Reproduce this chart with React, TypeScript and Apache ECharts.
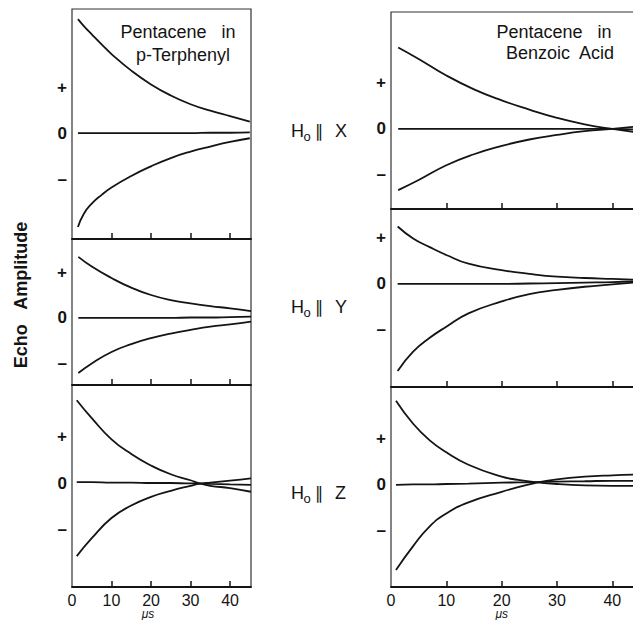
import React, { useEffect, useRef } from "react";
import * as echarts from "echarts";

// ---- axis labels ----
const xTickLabels = [0, 10, 20, 30, 40];
const xTickMarks = [10, 20, 30, 40];
const yLabelValues = [-1, 0, 1];
const muLabelAt = 20;

// ---- Pentacene in p-Terphenyl ----
// H0 || X
const ptXTime = [1.5, 3, 5, 7.5, 10, 15, 20, 25, 30, 35, 40, 45];
const ptXUpper = [2.48, 2.33, 2.15, 1.93, 1.72, 1.36, 1.06, 0.82, 0.63, 0.49, 0.37, 0.25];
const ptXZero = [0, 0, 0, 0, 0, 0, 0, 0, 0, 0.01, 0.01, 0.02];
const ptXLower = [-2.04, -1.75, -1.53, -1.34, -1.18, -0.93, -0.72, -0.54, -0.4, -0.29, -0.19, -0.11];
// H0 || Y
const ptYTime = [1.6, 5, 10, 15, 20, 25, 30, 35, 40, 45.3];
const ptYUpper = [1.33, 1.12, 0.87, 0.66, 0.5, 0.39, 0.32, 0.26, 0.21, 0.15];
const ptYZero = [0, 0, 0, 0, 0, 0, 0.01, 0.01, 0.02, 0.03];
const ptYLower = [-1.2, -0.99, -0.74, -0.57, -0.44, -0.34, -0.26, -0.19, -0.14, -0.08];
// H0 || Z
const ptZTime = [1.2, 5, 10, 15, 20, 25, 30, 32, 35, 40, 45.3];
const ptZUpper = [1.8, 1.41, 0.95, 0.63, 0.38, 0.19, 0.06, 0.0, -0.06, -0.11, -0.19];
const ptZZero = [0.02, 0.02, 0.01, 0.01, 0.0, 0.0, -0.01, -0.01, -0.02, -0.03, -0.04];
const ptZLower = [-1.59, -1.2, -0.76, -0.49, -0.3, -0.17, -0.06, -0.02, 0.01, 0.05, 0.1];

// ---- Pentacene in Benzoic Acid ----
// H0 || X
const baXTime = [1.3, 5, 10, 15, 20, 25, 30, 35, 40, 45];
const baXUpper = [1.77, 1.52, 1.16, 0.86, 0.62, 0.42, 0.24, 0.1, 0.0, -0.08];
const baXZero = [0, 0, 0, 0, 0, 0, 0, 0, 0, -0.02];
const baXLower = [-1.33, -1.11, -0.79, -0.55, -0.37, -0.23, -0.13, -0.05, 0.0, 0.06];
// H0 || Y
const baYTime = [1.2, 4, 7, 10, 14, 20, 25, 30, 35, 40, 45];
const baYUpper = [1.25, 0.99, 0.8, 0.63, 0.44, 0.3, 0.22, 0.16, 0.13, 0.11, 0.09];
const baYZero = [0, 0, 0, 0, 0, 0, 0.01, 0.02, 0.03, 0.04, 0.06];
const baYLower = [-1.89, -1.47, -1.17, -0.93, -0.64, -0.38, -0.22, -0.13, -0.06, -0.01, 0.04];
// H0 || Z
const baZTime = [0.9, 4, 7, 10, 14, 20, 23, 26, 30, 35, 40, 45];
const baZUpper = [1.83, 1.33, 0.97, 0.71, 0.44, 0.18, 0.11, 0.06, 0.02, -0.01, -0.02, -0.02];
const baZZero = [0, 0.01, 0.01, 0.02, 0.03, 0.05, 0.055, 0.06, 0.07, 0.08, 0.09, 0.09];
const baZLower = [-1.85, -1.33, -0.9, -0.62, -0.38, -0.15, -0.05, 0.04, 0.12, 0.18, 0.21, 0.23];

const panelData = [
  { t: ptXTime, curves: [ptXUpper, ptXZero, ptXLower] },
  { t: ptYTime, curves: [ptYUpper, ptYZero, ptYLower] },
  { t: ptZTime, curves: [ptZUpper, ptZZero, ptZLower] },
  { t: baXTime, curves: [baXUpper, baXZero, baXLower] },
  { t: baYTime, curves: [baYUpper, baYZero, baYLower] },
  { t: baZTime, curves: [baZUpper, baZZero, baZLower] },
];

const layout = [
  { left: 72, top: 9, width: 179, height: 230, yMin: -2.3, yMax: 2.7, xMax: 45.3, bottom: false },
  { left: 72, top: 239, width: 179, height: 146, yMin: -1.46, yMax: 1.72, xMax: 45.3, bottom: false },
  { left: 72, top: 385, width: 179, height: 202, yMin: -2.26, yMax: 2.13, xMax: 45.3, bottom: true },
  { left: 391, top: 12, width: 249, height: 197, yMin: -1.74, yMax: 2.54, xMax: 45, bottom: false },
  { left: 391, top: 209, width: 249, height: 178, yMin: -2.24, yMax: 1.63, xMax: 45, bottom: false },
  { left: 391, top: 387, width: 249, height: 200, yMin: -2.22, yMax: 2.13, xMax: 45, bottom: true },
];

const FONT = "'Liberation Sans', Arial, Helvetica, sans-serif";
const INK = "#141414";

function hLabel(id: string, x: number, y: number, axisLetter: string) {
  return {
    type: "group",
    id,
    x,
    y,
    children: [
      { type: "text", x: 0, y: 0, style: { text: "H", font: `18px ${FONT}`, fill: INK, textVerticalAlign: "middle" } },
      { type: "text", x: 12.5, y: 5, style: { text: "o", font: `13px ${FONT}`, fill: INK, textVerticalAlign: "middle" } },
      { type: "text", x: 24, y: 0, style: { text: "\u2225", font: `17px 'DejaVu Sans', sans-serif`, fill: INK, textVerticalAlign: "middle" } },
      { type: "text", x: 44, y: 0, style: { text: axisLetter, font: `18px ${FONT}`, fill: INK, textVerticalAlign: "middle" } },
    ],
  };
}

export default function App() {
  const ref = useRef<HTMLDivElement>(null);
  useEffect(() => {
    if (!ref.current) return;
    const chart = echarts.init(ref.current, null, { renderer: "svg" });

    const grids = layout.map((l) => ({
      left: l.left,
      top: l.top,
      width: l.width,
      height: l.height,
      show: true,
      borderColor: "#333",
      borderWidth: 1.2,
      backgroundColor: "transparent",
      containLabel: false,
      outerBoundsMode: "none",
    }));

    const xAxes = layout.map((l, i) => ({
      type: "value",
      gridIndex: i,
      min: 0,
      max: l.xMax,
      splitLine: { show: false },
      axisLine: { show: true, onZero: false, lineStyle: { color: INK, width: 1.8 } },
      axisTick: {
        show: true,
        inside: true,
        length: 6,
        customValues: xTickMarks,
        lineStyle: { color: INK, width: 1.5 },
      },
      axisLabel: {
        show: l.bottom,
        customValues: xTickLabels,
        fontSize: 16,
        fontFamily: FONT,
        color: INK,
        margin: 5,
      },
    }));

    const yAxes = layout.map((l, i) => ({
      type: "value",
      gridIndex: i,
      min: l.yMin,
      max: l.yMax,
      splitLine: { show: false },
      axisLine: { show: false },
      axisTick: { show: false },
      axisLabel: {
        show: true,
        customValues: yLabelValues,
        formatter: (v: number) => (v > 0 ? "+" : v < 0 ? "\u2013" : "0"),
        fontSize: 17,
        fontWeight: "bold",
        fontFamily: FONT,
        color: INK,
        margin: 5,
      },
    }));

    const series: any[] = [];
    panelData.forEach((p, i) => {
      p.curves.forEach((c, k) => {
        series.push({
          type: "line",
          xAxisIndex: i,
          yAxisIndex: i,
          data: p.t.map((t, j) => [t, c[j]]),
          showSymbol: false,
          smooth: 0.5,
          lineStyle: { color: INK, width: 1.8 },
          silent: true,
          z: 3 + k,
        });
      });
    });

    const graphics: any[] = [
      {
        type: "text",
        id: "t1a",
        x: 178,
        y: 32,
        style: { text: "Pentacene   in", font: `18px ${FONT}`, fill: INK, textAlign: "center", textVerticalAlign: "middle" },
      },
      {
        type: "text",
        id: "t1b",
        x: 183,
        y: 55,
        style: { text: "p-Terphenyl", font: `18px ${FONT}`, fill: INK, textAlign: "center", textVerticalAlign: "middle" },
      },
      {
        type: "text",
        id: "t2a",
        x: 554,
        y: 32,
        style: { text: "Pentacene   in", font: `18px ${FONT}`, fill: INK, textAlign: "center", textVerticalAlign: "middle" },
      },
      {
        type: "text",
        id: "t2b",
        x: 560,
        y: 53,
        style: { text: "Benzoic  Acid", font: `18px ${FONT}`, fill: INK, textAlign: "center", textVerticalAlign: "middle" },
      },
      {
        type: "text",
        id: "ylab",
        x: 21,
        y: 295,
        rotation: Math.PI / 2,
        style: { text: "Echo   Amplitude", font: `bold 18px ${FONT}`, fill: INK, textAlign: "center", textVerticalAlign: "middle" },
      },
      hLabel("hx", 291, 131, "X"),
      hLabel("hy", 291, 307, "Y"),
      hLabel("hz", 291, 493, "Z"),
    ];

    chart.setOption({
      animation: false,
      backgroundColor: "#ffffff",
      grid: grids,
      xAxis: xAxes,
      yAxis: yAxes,
      series,
      graphic: graphics,
    });

    const muLeft = chart.convertToPixel({ gridIndex: 2 } as any, [muLabelAt, 0]) as number[];
    const muRight = chart.convertToPixel({ gridIndex: 5 } as any, [muLabelAt, 0]) as number[];
    chart.setOption({
      graphic: [
        ...graphics,
        {
          type: "text",
          id: "mu1",
          x: muLeft[0] - 3,
          y: 614,
          style: { text: "\u03bcs", font: `italic 12px ${FONT}`, fill: INK, textAlign: "center", textVerticalAlign: "middle" },
        },
        {
          type: "text",
          id: "mu2",
          x: muRight[0],
          y: 614,
          style: { text: "\u03bcs", font: `italic 12px ${FONT}`, fill: INK, textAlign: "center", textVerticalAlign: "middle" },
        },
      ],
    });

    return () => chart.dispose();
  }, []);

  return (
    <div
      ref={ref}
      style={{ position: "absolute", left: 0, top: 0, width: 633, height: 620, background: "#fff" }}
    />
  );
}
